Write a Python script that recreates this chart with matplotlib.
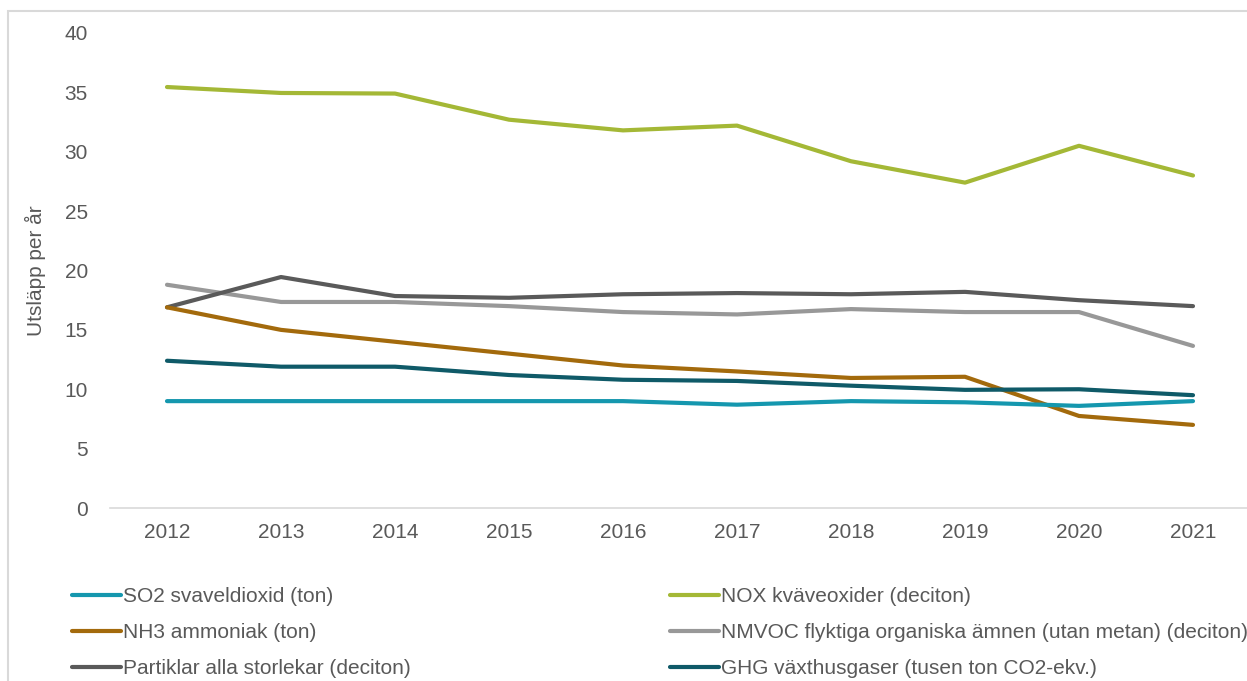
import matplotlib.pyplot as plt
from matplotlib.patches import Rectangle

plt.rcParams['font.family'] = ['Liberation Sans', 'DejaVu Sans']

years = ["2012", "2013", "2014", "2015", "2016", "2017", "2018", "2019", "2020", "2021"]

so2 = [9.0, 9.0, 9.0, 9.0, 9.0, 8.7, 9.0, 8.9, 8.6, 9.0]
nox = [35.45, 34.95, 34.9, 32.7, 31.8, 32.2, 29.2, 27.4, 30.5, 28.0]
nh3 = [16.9, 15.0, 14.0, 13.0, 12.0, 11.5, 10.95, 11.05, 7.75, 7.0]
nmvoc = [18.8, 17.35, 17.35, 17.0, 16.5, 16.3, 16.75, 16.5, 16.5, 13.65]
partiklar = [16.9, 19.45, 17.85, 17.7, 18.0, 18.1, 18.0, 18.2, 17.5, 17.0]
ghg = [12.4, 11.9, 11.9, 11.2, 10.8, 10.7, 10.3, 9.95, 10.0, 9.5]

labels = {
    "so2": "SO2 svaveldioxid (ton)",
    "nox": "NOX kväveoxider (deciton)",
    "nh3": "NH3 ammoniak (ton)",
    "nmvoc": "NMVOC flyktiga organiska ämnen (utan metan) (deciton)",
    "partiklar": "Partiklar alla storlekar (deciton)",
    "ghg": "GHG växthusgaser (tusen ton CO2-ekv.)",
}
colors = {
    "so2": "#1597ae",
    "nox": "#a4b836",
    "nh3": "#a36a0c",
    "nmvoc": "#989898",
    "partiklar": "#5a5a5a",
    "ghg": "#0f5a68",
}
series = {"so2": so2, "nox": nox, "nh3": nh3, "nmvoc": nmvoc,
          "partiklar": partiklar, "ghg": ghg}
# draw order (back to front)
draw_order = ["nmvoc", "partiklar", "nh3", "ghg", "so2", "nox"]

text_col = "#595959"
fs = 15
W, H = 1247, 681
fig = plt.figure(figsize=(W / 100, H / 100), dpi=100)
ax = fig.add_axes([110 / W, 1 - 508 / H, 1 - 110 / W, (508 - 33) / H])

x = list(range(len(years)))
lines = {}
for key in draw_order:
    lines[key], = ax.plot(x, series[key], color=colors[key], lw=3,
                          solid_capstyle="round", solid_joinstyle="round",
                          label=labels[key])

ax.set_ylim(0, 40)
ax.set_xlim(-0.5, 9.5 - 3 / 114)
ax.set_yticks(range(0, 41, 5))
ax.set_xticks(x)
ax.set_xticklabels(years)
ax.tick_params(length=0, labelsize=fs, colors=text_col)
ax.tick_params(axis="y", pad=16)
ax.tick_params(axis="x", pad=11)
for s in ["top", "right", "left"]:
    ax.spines[s].set_visible(False)
ax.spines["bottom"].set_color("#d9d9d9")
ax.spines["bottom"].set_linewidth(1.2)
ax.set_ylabel("Utsläpp per år", fontsize=fs, color=text_col, labelpad=13)

fig.patches.append(Rectangle((8 / W, -0.1), 1.2, 1 - 11 / H + 0.1,
                             transform=fig.transFigure, fill=False,
                             edgecolor="#d9d9d9", lw=1.5))

col1 = ["so2", "nh3", "partiklar"]
col2 = ["nox", "nmvoc", "ghg"]
for keys, xpos in [(col1, 72), (col2, 670)]:
    leg = fig.legend([lines[k] for k in keys], [labels[k] for k in keys],
                     loc="upper left", bbox_to_anchor=(xpos / W, 1 - 587 / H),
                     frameon=False, fontsize=fs, handlelength=2.35,
                     handletextpad=0.1, labelspacing=0.82, borderpad=0,
                     borderaxespad=0)
    for t in leg.get_texts():
        t.set_color(text_col)

fig.savefig("out.png", dpi=100)
